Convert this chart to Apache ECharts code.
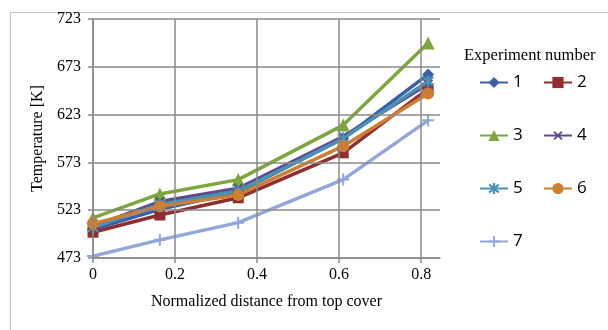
<!DOCTYPE html>
<html>
<head>
<meta charset="utf-8">
<script src="https://cdn.jsdelivr.net/npm/echarts@6/dist/echarts.min.js"></script>
<style>
  html, body { margin: 0; padding: 0; background: #fff; }
  #main { width: 608px; height: 330px; }
</style>
</head>
<body>
<div id="main"></div>
<script>
// distances and tick labels
var xValues = [0, 0.163, 0.354, 0.61, 0.817];
var xTicks = [0, 0.2, 0.4, 0.6, 0.8];
var yTicks = [473, 523, 573, 623, 673, 723];

// temperature of each experiment
var exp1 = [503, 524, 542, 598, 665];
var exp2 = [500, 518, 536, 583, 650];
var exp3 = [515, 540, 555, 612, 698];
var exp4 = [506, 532, 546, 600, 655];
var exp5 = [505, 529, 543, 598, 658];
var exp6 = [509, 527, 539, 590, 645];
var exp7 = [475, 492, 510, 555, 617];

var gridColor = '#8a8a8a';
var serif = 'Liberation Serif';

// marker shapes
var plusPath = 'path://M-1,-6 L1,-6 L1,-1 L6,-1 L6,1 L1,1 L1,6 L-1,6 L-1,1 L-6,1 L-6,-1 L-1,-1 Z';
var starPath = 'path://M-1,-6 L1,-6 L1,6 L-1,6 Z M-5,-3.6 L-3.6,-5 L5,3.6 L3.6,5 Z M3.6,-5 L5,-3.6 L-3.6,5 L-5,3.6 Z';

function pairs(ys) {
    var out = [];
    for (var i = 0; i < xValues.length; i++) out.push([xValues[i], ys[i]]);
    return out;
}

function makeLine(name, ys, color, symbol, size, rotate) {
    return {
        name: name,
        type: 'line',
        data: pairs(ys),
        symbol: symbol,
        symbolSize: size,
        symbolRotate: rotate || 0,
        showAllSymbol: true,
        z: 3,
        lineStyle: { color: color, width: 3.5 },
        itemStyle: { color: color, borderWidth: 0 }
    };
}

var vLines = xTicks.map(function (v) { return { xAxis: v }; });
var hLines = yTicks.map(function (v) { return { yAxis: v }; });

var legendText = { fontFamily: 'Open Sans', fontSize: 17, color: '#000' };

var myChart = echarts.init(document.getElementById('main'));
var option = {
    animation: false,
    backgroundColor: '#fff',
    graphic: [{
        type: 'rect',
        left: 8, top: 10,
        shape: { width: 640, height: 360 },
        style: { fill: 'none', stroke: '#c4c4c4', lineWidth: 1.2 },
        silent: true
    }],
    title: {
        text: 'Experiment number',
        left: 459, top: 42,
        textStyle: { fontFamily: serif, fontSize: 16.5, fontWeight: 'normal', color: '#000' }
    },
    legend: [{
        data: ['1', '3', '5', '7'],
        orient: 'vertical',
        left: 474, top: 69,
        itemWidth: 28, itemHeight: 14, itemGap: 36,
        textStyle: legendText
    }, {
        data: ['2', '4', '6'],
        orient: 'vertical',
        left: 538, top: 69,
        itemWidth: 28, itemHeight: 14, itemGap: 36,
        textStyle: legendText
    }],
    grid: { left: 93, right: 168, top: 19, bottom: 72, containLabel: false },
    xAxis: {
        type: 'value',
        min: 0, max: 0.846,
        name: 'Normalized distance from top cover',
        nameLocation: 'middle',
        nameGap: 36,
        nameTextStyle: { fontFamily: serif, fontSize: 16, color: '#000' },
        axisLine: { show: true, lineStyle: { color: gridColor, width: 1.5 } },
        axisTick: { show: true, length: 5, customValues: xTicks, lineStyle: { color: gridColor, width: 1.5 } },
        axisLabel: { customValues: xTicks, fontFamily: serif, fontSize: 16, color: '#000', margin: 9 },
        splitLine: { show: false }
    },
    yAxis: {
        type: 'value',
        min: 473, max: 723,
        name: 'Temperature [K]',
        nameLocation: 'middle',
        nameGap: 44,
        nameTextStyle: { fontFamily: serif, fontSize: 16, color: '#000' },
        axisLine: { show: true, lineStyle: { color: gridColor, width: 1.5 } },
        axisTick: { show: true, length: 5, customValues: yTicks, lineStyle: { color: gridColor, width: 1.5 } },
        axisLabel: { customValues: yTicks, fontFamily: serif, fontSize: 16, color: '#000', margin: 12 },
        splitLine: { show: false }
    },
    series: [
        {
            name: 'grid',
            type: 'line',
            data: [],
            z: 1,
            silent: true,
            markLine: {
                silent: true,
                symbol: 'none',
                label: { show: false },
                lineStyle: { color: gridColor, width: 1.5, type: 'solid' },
                data: vLines.concat(hLines)
            }
        },
        makeLine('1', exp1, '#3D5FA8', 'diamond', 12),
        makeLine('2', exp2, '#8E2E2E', 'rect', 11),
        makeLine('3', exp3, '#7EA53F', 'triangle', 13),
        makeLine('4', exp4, '#5E4A8C', plusPath, 12, 45),
        makeLine('5', exp5, '#4A92B4', starPath, 12),
        makeLine('6', exp6, '#CC7E34', 'circle', 12),
        makeLine('7', exp7, '#92A6D8', plusPath, 12)
    ]
};
myChart.setOption(option);
</script>
</body>
</html>
